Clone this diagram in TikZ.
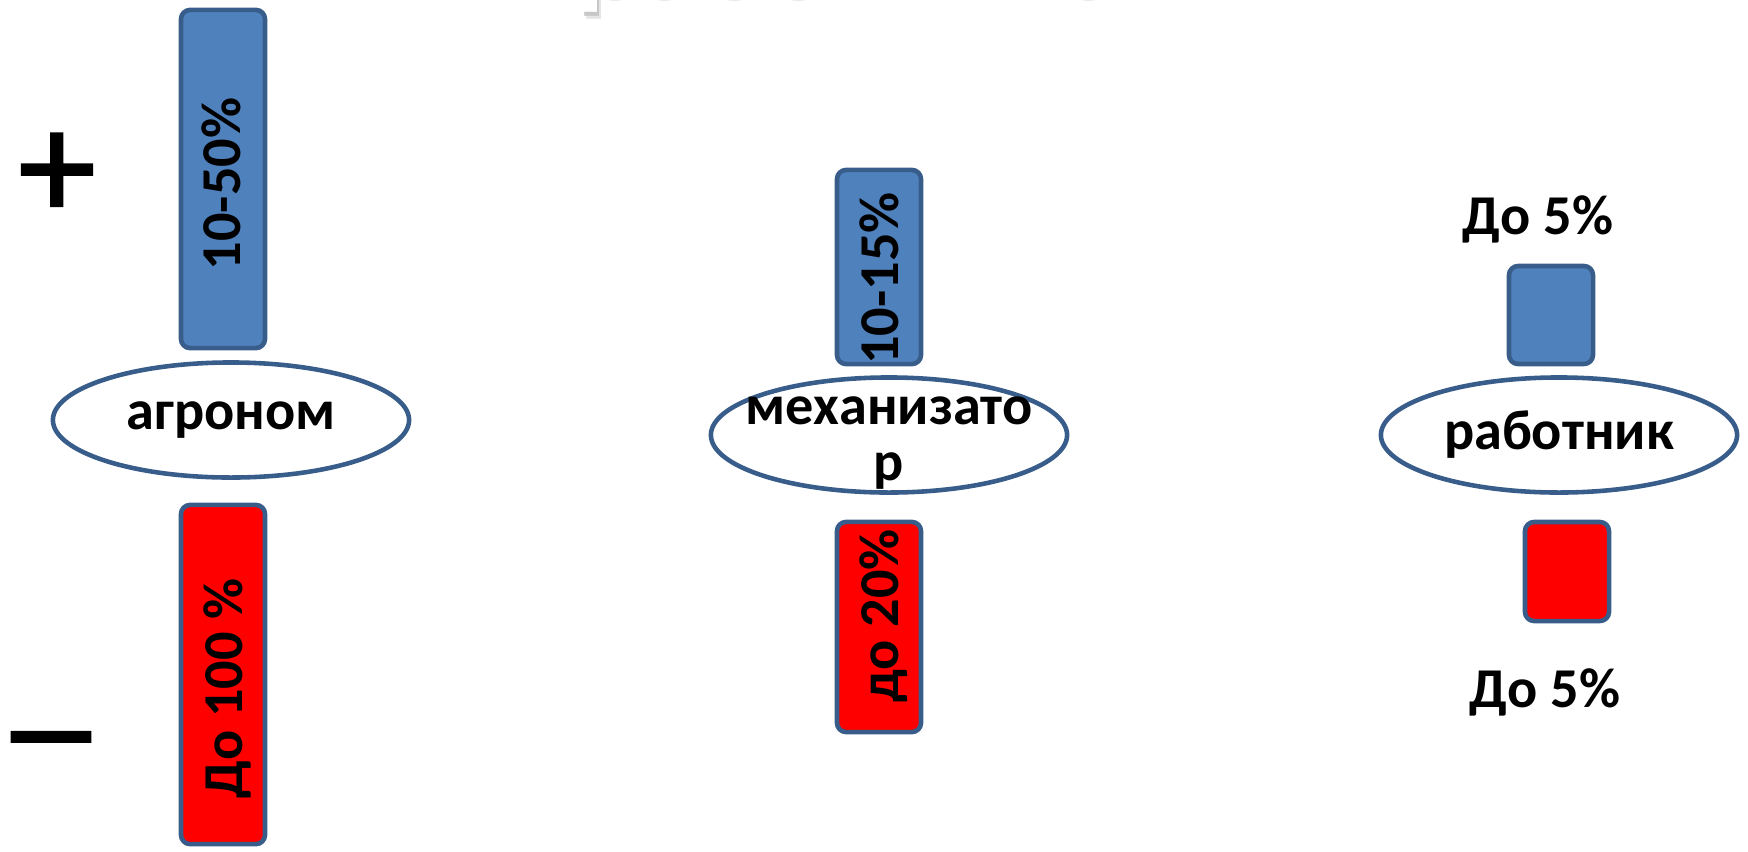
\documentclass[tikz,border=0pt]{standalone}
\usepackage{fontspec}
\setmainfont{Carlito}
\newfontfamily\signfont[FakeBold=1.5]{Carlito}
\usetikzlibrary{shapes.geometric}

\definecolor{BarBlue}{HTML}{4F81BD}
\definecolor{BarEdge}{HTML}{385D8A}
\definecolor{BarRed}{HTML}{FF0000}

\begin{document}
\begin{tikzpicture}[x=0.01cm, y=-0.01cm]
    \useasboundingbox (0,0) rectangle (1748,851);

    \tikzset{BarStyle/.style={draw=BarEdge, line width=1.3pt, rounded corners=2.6pt,
        inner sep=0pt, minimum width=0.84cm, fill=BarBlue}}
    \tikzset{RoleStyle/.style={ellipse, draw=BarEdge, line width=1.3pt, fill=white,
        minimum width=3.56cm, minimum height=1.15cm, inner sep=0pt}}
    \tikzset{LabelStyle/.style={inner sep=0pt, anchor=base,
        font=\bfseries\fontsize{16}{16}\selectfont}}
    \tikzset{RoleText/.style={inner sep=0pt, align=center,
        font=\bfseries\fontsize{16}{16}\selectfont}}
    \tikzset{SignStyle/.style={inner sep=0pt, font=\signfont\fontsize{44}{44}\selectfont}}
    \tikzset{TitleStyle/.style={inner sep=0pt, anchor=base west,
        font=\bfseries\fontsize{34}{34}\selectfont}}

    \node[TitleStyle, text=black!10] (titleBlur)  at (579,0)  {работника};
    \node[TitleStyle, text=black!22] (titleShade) at (577,-3) {работника};
    \node[TitleStyle, text=white]    (title)      at (575,-7) {работника};

    \node[SignStyle] (plus)  at (57,176) {+};
    \node[SignStyle] (minus) at (51,756) {\scalebox{1.4}[1]{–}};

    \node[BarStyle, minimum height=3.38cm] (agroPlus) at (223,179) {};
    \node[BarStyle, minimum height=1.94cm] (mechPlus) at (879,267) {};
    \node[BarStyle, minimum height=0.98cm] (workPlus) at (1551,315) {};

    \tikzset{BarStyle/.append style={fill=BarRed}}
    \node[BarStyle, minimum height=3.39cm] (agroMinus) at (223,674.5) {};
    \node[BarStyle, minimum height=2.10cm] (mechMinus) at (879,627) {};
    \node[BarStyle, minimum height=0.99cm] (workMinus) at (1567,571.5) {};

    \node[RoleStyle] (agro) at (231,420) {};
    \node[RoleStyle] (mech) at (889,435) {};
    \node[RoleStyle] (work) at (1559,435) {};
    \node[RoleText] (agroTxt) at (agro) {агроном};
    \node[RoleText] (mechTxt) at ([yshift=-0.08cm]mech) {механизато\\р};
    \node[RoleText] (workTxt) at (work) {работник};

    \node[LabelStyle, rotate=90] (agroPlusTxt)  at (240,184)   {10-50\%};
    \node[LabelStyle, rotate=90] (agroMinusTxt) at (242,688.5) {До 100 \%};
    \node[LabelStyle, rotate=90] (mechPlusTxt)  at (898,278.5) {10-15\%};
    \node[LabelStyle, rotate=90] (mechMinusTxt) at (898,616)   {до 20\%};
    \node[LabelStyle] (workPlusTxt)  at (1538,234) {До 5\%};
    \node[LabelStyle] (workMinusTxt) at (1545,707) {До 5\%};
\end{tikzpicture}
\end{document}
